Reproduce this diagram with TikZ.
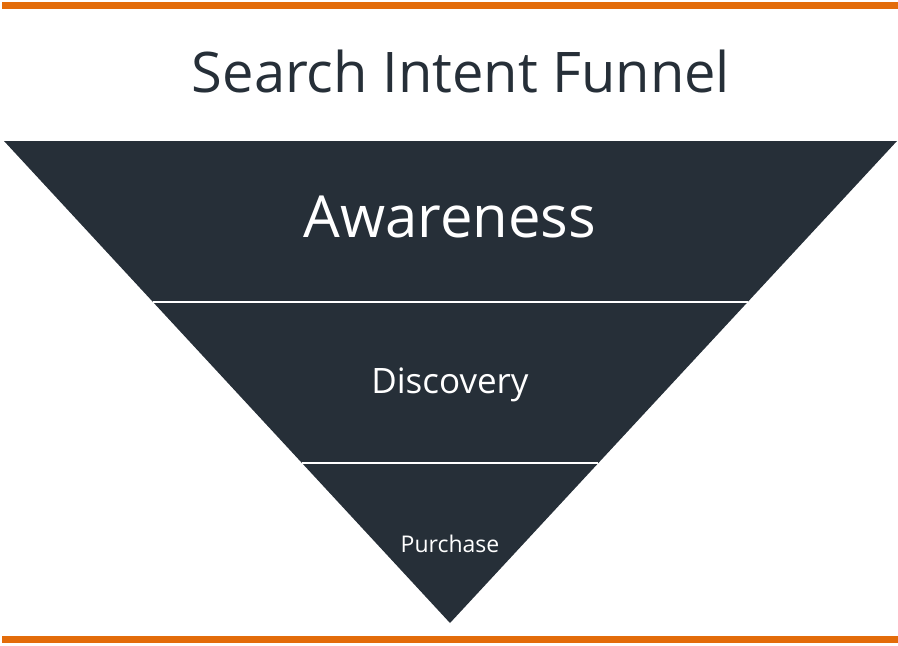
\documentclass[tikz,border=0pt]{standalone}
\usepackage{fontspec}
\setmainfont{Open Sans}
\usetikzlibrary{calc}
\definecolor{funnelnavy}{HTML}{262F38}
\definecolor{barorange}{HTML}{E36C0A}

\begin{document}
\begin{tikzpicture}[x=1pt, y=-1pt, stagelabel/.style={text=white, anchor=base, inner sep=0pt}]
    \useasboundingbox (0,0) rectangle (898,646);

    % Orange bars
    \fill[barorange] (2,2) rectangle (898,9);
    \fill[barorange] (2,636) rectangle (898,643);

    % Title
    \node[anchor=base, inner sep=0pt, text=funnelnavy, font=\fontsize{56}{67}\selectfont] (title) at (461,92) {Search Intent Funnel};

    % Funnel
    \coordinate (tl) at (4,141);
    \coordinate (tr) at (897,141);
    \coordinate (tip) at (450,623);
    \fill[funnelnavy] (tl) -- (tr) -- (tip) -- cycle;

    \coordinate (d1l) at ($(tl)!1/3!(tip)$);
    \coordinate (d1r) at ($(tr)!1/3!(tip)$);
    \coordinate (d2l) at ($(tl)!0.668!(tip)$);
    \coordinate (d2r) at ($(tr)!0.668!(tip)$);
    \draw[white, line width=2pt] (d1l) -- (d1r);
    \draw[white, line width=2pt] (d2l) -- (d2r);

    % Stage labels
    \node[stagelabel, font=\fontsize{58}{70}\selectfont] (aware) at (450,237) {Awareness};
    \node[stagelabel, font=\fontsize{35}{42}\selectfont] (disc) at (450,393) {Discovery};
    \node[stagelabel, font=\fontsize{23}{28}\selectfont] (purch) at (450,552) {Purchase};
\end{tikzpicture}
\end{document}
